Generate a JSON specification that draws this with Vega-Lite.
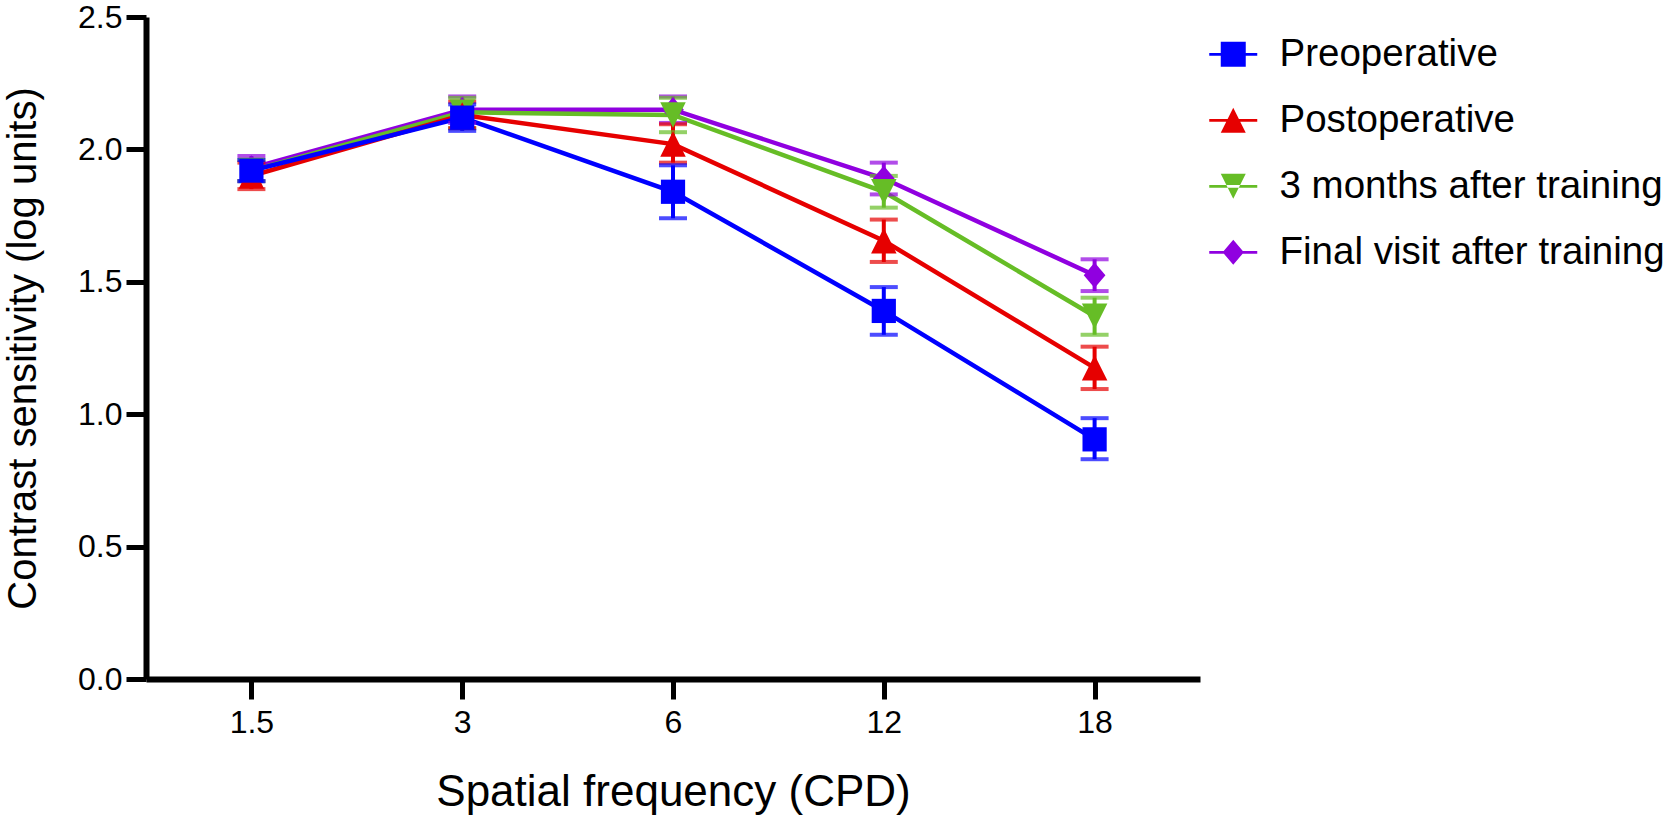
{
  "$schema": "https://vega.github.io/schema/vega-lite/v6.json",
  "width": 1054,
  "height": 662,
  "autosize": "none",
  "padding": {"left": 146, "top": 17, "right": 467, "bottom": 136},
  "background": "white",
  "config": {
    "font": "Liberation Sans",
    "view": {"stroke": null},
    "axis": {
      "grid": false,
      "domainColor": "black",
      "domainWidth": 6,
      "tickColor": "black",
      "tickWidth": 5,
      "tickSize": 20,
      "labelColor": "black",
      "labelFont": "Liberation Sans",
      "labelFontSize": 32,
      "titleColor": "black",
      "titleFont": "Liberation Sans",
      "titleFontWeight": "normal"
    }
  },
  "data": {
    "values": [
      {"freq": "1.5", "group": "Final visit after training", "cs": 1.93, "lo": 1.88, "hi": 1.975},
      {"freq": "3", "group": "Final visit after training", "cs": 2.15, "lo": 2.1, "hi": 2.2},
      {"freq": "6", "group": "Final visit after training", "cs": 2.15, "lo": 2.1, "hi": 2.2},
      {"freq": "12", "group": "Final visit after training", "cs": 1.89, "lo": 1.83, "hi": 1.95},
      {"freq": "18", "group": "Final visit after training", "cs": 1.525, "lo": 1.465, "hi": 1.585},
      {"freq": "1.5", "group": "3 months after training", "cs": 1.92, "lo": 1.88, "hi": 1.96},
      {"freq": "3", "group": "3 months after training", "cs": 2.14, "lo": 2.08, "hi": 2.195},
      {"freq": "6", "group": "3 months after training", "cs": 2.13, "lo": 2.065, "hi": 2.195},
      {"freq": "12", "group": "3 months after training", "cs": 1.84, "lo": 1.78, "hi": 1.9},
      {"freq": "18", "group": "3 months after training", "cs": 1.37, "lo": 1.3, "hi": 1.44},
      {"freq": "1.5", "group": "Postoperative", "cs": 1.9, "lo": 1.85, "hi": 1.95},
      {"freq": "3", "group": "Postoperative", "cs": 2.13, "lo": 2.08, "hi": 2.18},
      {"freq": "6", "group": "Postoperative", "cs": 2.02, "lo": 1.95, "hi": 2.095},
      {"freq": "12", "group": "Postoperative", "cs": 1.655, "lo": 1.575, "hi": 1.735},
      {"freq": "18", "group": "Postoperative", "cs": 1.175, "lo": 1.095, "hi": 1.255},
      {"freq": "1.5", "group": "Preoperative", "cs": 1.92, "lo": 1.88, "hi": 1.96},
      {"freq": "3", "group": "Preoperative", "cs": 2.12, "lo": 2.07, "hi": 2.17},
      {"freq": "6", "group": "Preoperative", "cs": 1.84, "lo": 1.74, "hi": 1.94},
      {"freq": "12", "group": "Preoperative", "cs": 1.39, "lo": 1.3, "hi": 1.48},
      {"freq": "18", "group": "Preoperative", "cs": 0.905, "lo": 0.83, "hi": 0.985}
    ]
  },
  "encoding": {
    "x": {
      "field": "freq",
      "type": "ordinal",
      "scale": {"type": "point", "domain": ["1.5", "3", "6", "12", "18"], "padding": 0.5},
      "axis": {"title": "Spatial frequency (CPD)", "titleFontSize": 44, "labelAngle": 0, "labelPadding": 8, "titlePadding": 32}
    }
  },
  "layer": [
    {
      "mark": {"type": "line", "strokeWidth": 4.5},
      "encoding": {
        "y": {
          "field": "cs",
          "type": "quantitative",
          "scale": {"domain": [0, 2.5], "nice": false, "zero": true},
          "axis": {
            "title": "Contrast sensitivity (log units)",
            "titleFontSize": 40,
            "titlePadding": 34,
            "values": [0, 0.5, 1, 1.5, 2, 2.5],
            "format": ".1f",
            "labelPadding": 4
          }
        },
        "color": {
          "field": "group",
          "type": "nominal",
          "scale": {
            "domain": ["Preoperative", "Postoperative", "3 months after training", "Final visit after training"],
            "range": ["#0000FF", "#E60000", "#66BD26", "#9000E0"]
          },
          "legend": {
            "title": null,
            "orient": "none",
            "legendX": 1068,
            "legendY": 18,
            "padding": 0,
            "labelFontSize": 38.5,
            "labelColor": "black",
            "labelFont": "Liberation Sans",
            "labelLimit": 0,
            "labelOffset": 27,
            "rowPadding": 27,
            "symbolSize": 625,
            "symbolStrokeWidth": 0,
            "symbolOpacity": 1,
            "encode": {
              "symbols": {
                "update": {
                  "fill": {"scale": "color", "field": "value"},
                  "fillOpacity": {"value": 1},
                  "strokeWidth": {"value": 0},
                  "shape": {
                    "signal": "datum.value === 'Preoperative' ? 'M-1.92,-0.11H1.92V0.11H-1.92Z M-1,-1H1V1H-1Z' : datum.value === 'Postoperative' ? 'M-1.92,-0.11H1.92V0.11H-1.92Z M0,-1L1,1H-1Z' : datum.value === '3 months after training' ? 'M-1.92,-0.11H1.92V0.11H-1.92Z M0,1L1,-1H-1Z' : 'M-1.92,-0.11H1.92V0.11H-1.92Z M0,-1L0.85,0L0,1L-0.85,0Z'"
                  }
                }
              }
            }
          }
        },
        "detail": {"field": "group"}
      }
    },
    {
      "mark": {"type": "rule", "strokeWidth": 4},
      "encoding": {
        "y": {"field": "lo", "type": "quantitative"},
        "y2": {"field": "hi"},
        "color": {"field": "group", "type": "nominal"}
      }
    },
    {
      "mark": {"type": "tick", "thickness": 4, "size": 28},
      "encoding": {
        "y": {"field": "lo", "type": "quantitative"},
        "color": {"field": "group", "type": "nominal"}
      }
    },
    {
      "mark": {"type": "tick", "thickness": 4, "size": 28},
      "encoding": {
        "y": {"field": "hi", "type": "quantitative"},
        "color": {"field": "group", "type": "nominal"}
      }
    },
    {
      "mark": {"type": "point", "filled": true, "opacity": 1, "size": 650, "strokeWidth": 0},
      "encoding": {
        "y": {"field": "cs", "type": "quantitative"},
        "color": {"field": "group", "type": "nominal"},
        "shape": {
          "field": "group",
          "type": "nominal",
          "scale": {
            "domain": ["Final visit after training", "3 months after training", "Postoperative", "Preoperative"],
            "range": ["M0,-1L0.85,0L0,1L-0.85,0Z", "M0,1L1,-1H-1Z", "M0,-1L1,1H-1Z", "M-0.95,-0.95H0.95V0.95H-0.95Z"]
          },
          "legend": null
        }
      }
    }
  ]
}
